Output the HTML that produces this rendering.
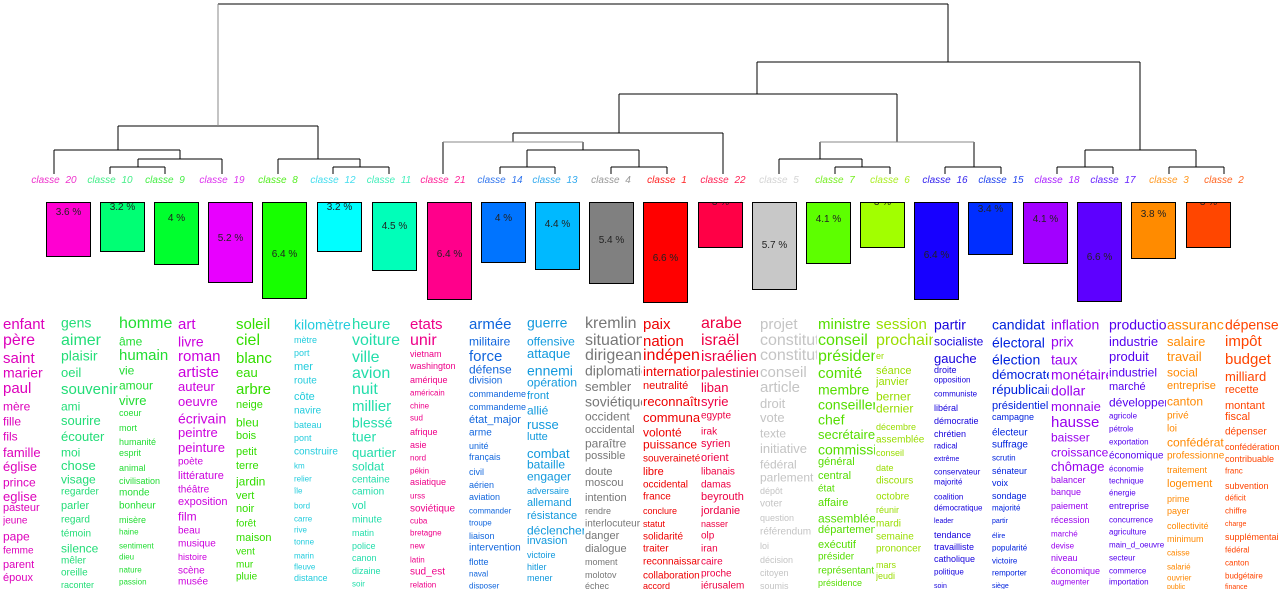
<!DOCTYPE html>
<html><head><meta charset="utf-8">
<style>
html,body{margin:0;padding:0;background:#fff;}
body{width:1279px;height:589px;position:relative;overflow:hidden;font-family:"Liberation Sans",sans-serif;}
svg{position:absolute;left:0;top:0;}
.col{position:absolute;top:310px;height:279px;width:57px;overflow:hidden;}
.col b{position:absolute;left:0;font-weight:normal;white-space:nowrap;line-height:1;transform:translateY(-55%);}
.bar{position:absolute;top:202px;width:45px;border:1px solid #000;box-sizing:border-box;overflow:hidden;}
.bar span{position:absolute;left:0;right:0;text-align:center;font-size:10px;line-height:1;color:#222;transform:translateY(-50%);}
</style></head><body>
<svg width="1279" height="310" xmlns="http://www.w3.org/2000/svg">
<g stroke="#000" stroke-width="1" fill="none" shape-rendering="crispEdges">
<path d="M54 150V174M110 167V174M165 167V174M110 167H165M138 159V167M222 159V174M138 159H222M180 150V159M54 150H180M118 126V150"/>
<path d="M278 159V174M333 167V174M389 167V174M333 167H389M360 159V167M278 159H360M318 126V159M118 126H318"/>
<path d="M218 4H948M948 4V62M757 62H1140M757 62V94M619 94H897M619 94V133M513 133H723M723 133V174M513 133V142"/>
<path d="M443 142V174M583 142V150M527 150H639M527 150V167M500 167H555M500 167V174M555 167V174M639 150V167M611 167H667M611 167V174M667 167V174"/>
<path d="M897 94V142M820 142V159M779 159H862M779 159V174M862 159V167M835 167H890M835 167V174M890 167V174M974 142V167M945 167H1001M945 167V174M1001 167V174"/>
<path d="M1140 62V150M1085 150H1196M1085 150V167M1057 167H1113M1057 167V174M1113 167V174M1196 150V167M1169 167H1224M1169 167V174M1224 167V174"/>
</g>
<g stroke="#888" stroke-width="1" shape-rendering="crispEdges"><path d="M218 4V126M443 142H583M820 142H974"/></g>
<g font-family="Liberation Sans, sans-serif" font-size="10" font-style="italic" text-anchor="middle" word-spacing="3">
<text x="54" y="183" fill="#ee33cc">classe 20</text>
<text x="110" y="183" fill="#44ee88">classe 10</text>
<text x="165" y="183" fill="#44ee44">classe 9</text>
<text x="222" y="183" fill="#dd33ee">classe 19</text>
<text x="278" y="183" fill="#55ee22">classe 8</text>
<text x="333" y="183" fill="#44ddee">classe 12</text>
<text x="389" y="183" fill="#44eebb">classe 11</text>
<text x="443" y="183" fill="#ff2299">classe 21</text>
<text x="500" y="183" fill="#3377ee">classe 14</text>
<text x="555" y="183" fill="#33aaee">classe 13</text>
<text x="611" y="183" fill="#999">classe 4</text>
<text x="667" y="183" fill="#ff2222">classe 1</text>
<text x="723" y="183" fill="#ff2255">classe 22</text>
<text x="779" y="183" fill="#d4d4d4">classe 5</text>
<text x="835" y="183" fill="#77ee22">classe 7</text>
<text x="890" y="183" fill="#aaee22">classe 6</text>
<text x="945" y="183" fill="#3322ee">classe 16</text>
<text x="1001" y="183" fill="#2244ee">classe 15</text>
<text x="1057" y="183" fill="#aa22ff">classe 18</text>
<text x="1113" y="183" fill="#6622ff">classe 17</text>
<text x="1169" y="183" fill="#ff9922">classe 3</text>
<text x="1224" y="183" fill="#ff6622">classe 2</text>
</g>
</svg>

<div class="bar" style="left:46px;height:55px;background:#FF00D1"><span style="top:10px">3.6 %</span></div>
<div class="bar" style="left:100px;height:50px;background:#00FF74"><span style="top:5px">3.2 %</span></div>
<div class="bar" style="left:154px;height:63px;background:#00FF2E"><span style="top:16px">4 %</span></div>
<div class="bar" style="left:208px;height:81px;background:#E800FF"><span style="top:36px">5.2 %</span></div>
<div class="bar" style="left:262px;height:97px;background:#17FF00"><span style="top:52px">6.4 %</span></div>
<div class="bar" style="left:317px;height:50px;background:#00FFFF"><span style="top:5px">3.2 %</span></div>
<div class="bar" style="left:372px;height:69px;background:#00FFB9"><span style="top:24px">4.5 %</span></div>
<div class="bar" style="left:427px;height:98px;background:#FF008B"><span style="top:52px">6.4 %</span></div>
<div class="bar" style="left:481px;height:61px;background:#0074FF"><span style="top:16px">4 %</span></div>
<div class="bar" style="left:535px;height:68px;background:#00B9FF"><span style="top:22px">4.4 %</span></div>
<div class="bar" style="left:589px;height:82px;background:#808080"><span style="top:38px">5.4 %</span></div>
<div class="bar" style="left:643px;height:101px;background:#FF0000"><span style="top:56px">6.6 %</span></div>
<div class="bar" style="left:698px;height:46px;background:#FF0046"><span style="top:0px">3 %</span></div>
<div class="bar" style="left:752px;height:88px;background:#C8C8C8"><span style="top:43px">5.7 %</span></div>
<div class="bar" style="left:806px;height:62px;background:#5DFF00"><span style="top:17px">4.1 %</span></div>
<div class="bar" style="left:860px;height:46px;background:#A2FF00"><span style="top:0px">3 %</span></div>
<div class="bar" style="left:914px;height:98px;background:#1700FF"><span style="top:53px">6.4 %</span></div>
<div class="bar" style="left:968px;height:53px;background:#002EFF"><span style="top:7px">3.4 %</span></div>
<div class="bar" style="left:1023px;height:62px;background:#A200FF"><span style="top:17px">4.1 %</span></div>
<div class="bar" style="left:1077px;height:100px;background:#5D00FF"><span style="top:55px">6.6 %</span></div>
<div class="bar" style="left:1131px;height:57px;background:#FF8B00"><span style="top:12px">3.8 %</span></div>
<div class="bar" style="left:1186px;height:46px;background:#FF4600"><span style="top:0px">3 %</span></div>

<div class="col" style="left:3px;color:#dd00bb">
<b style="top:15px;font-size:15px">enfant</b><b style="top:32px;font-size:16px">père</b><b style="top:49px;font-size:15px">saint</b><b style="top:63px;font-size:14px">marier</b><b style="top:79px;font-size:15px">paul</b><b style="top:97px;font-size:12px">mère</b><b style="top:112px;font-size:12px">fille</b><b style="top:127px;font-size:12px">fils</b><b style="top:143px;font-size:13px">famille</b><b style="top:157px;font-size:13px">église</b><b style="top:173px;font-size:12px">prince</b><b style="top:187px;font-size:13px">eglise</b><b style="top:199px;font-size:11px">pasteur</b><b style="top:212px;font-size:10px">jeune</b><b style="top:227px;font-size:12px">pape</b><b style="top:242px;font-size:10px">femme</b><b style="top:256px;font-size:11px">parent</b><b style="top:269px;font-size:11px">époux</b>
</div>
<div class="col" style="left:61px;color:#22dd77">
<b style="top:13px;font-size:14px">gens</b><b style="top:32px;font-size:16px">aimer</b><b style="top:46px;font-size:14px">plaisir</b><b style="top:63px;font-size:13px">oeil</b><b style="top:80px;font-size:15px">souvenir</b><b style="top:97px;font-size:12px">ami</b><b style="top:111px;font-size:13px">sourire</b><b style="top:127px;font-size:13px">écouter</b><b style="top:143px;font-size:12px">moi</b><b style="top:156px;font-size:13px">chose</b><b style="top:170px;font-size:12px">visage</b><b style="top:183px;font-size:10px">regarder</b><b style="top:197px;font-size:11px">parler</b><b style="top:211px;font-size:10px">regard</b><b style="top:225px;font-size:10px">témoin</b><b style="top:239px;font-size:12px">silence</b><b style="top:252px;font-size:10px">mêler</b><b style="top:264px;font-size:10px">oreille</b><b style="top:276px;font-size:9px">raconter</b>
</div>
<div class="col" style="left:119px;color:#22dd33">
<b style="top:15px;font-size:16px">homme</b><b style="top:32px;font-size:12px">âme</b><b style="top:46px;font-size:15px">humain</b><b style="top:61px;font-size:12px">vie</b><b style="top:76px;font-size:12px">amour</b><b style="top:91px;font-size:13px">vivre</b><b style="top:104px;font-size:9px">coeur</b><b style="top:119px;font-size:9px">mort</b><b style="top:133px;font-size:9px">humanité</b><b style="top:144px;font-size:9px">esprit</b><b style="top:159px;font-size:9px">animal</b><b style="top:172px;font-size:9px">civilisation</b><b style="top:184px;font-size:10px">monde</b><b style="top:197px;font-size:10px">bonheur</b><b style="top:211px;font-size:9px">misère</b><b style="top:223px;font-size:8px">haine</b><b style="top:237px;font-size:8px">sentiment</b><b style="top:248px;font-size:8px">dieu</b><b style="top:261px;font-size:8px">nature</b><b style="top:273px;font-size:8px">passion</b>
</div>
<div class="col" style="left:178px;color:#cc00dd">
<b style="top:15px;font-size:15px">art</b><b style="top:32px;font-size:14px">livre</b><b style="top:47px;font-size:15px">roman</b><b style="top:63px;font-size:15px">artiste</b><b style="top:77px;font-size:13px">auteur</b><b style="top:92px;font-size:13px">oeuvre</b><b style="top:109px;font-size:14px">écrivain</b><b style="top:123px;font-size:13px">peintre</b><b style="top:138px;font-size:13px">peinture</b><b style="top:153px;font-size:10px">poète</b><b style="top:167px;font-size:11px">littérature</b><b style="top:181px;font-size:10px">théâtre</b><b style="top:193px;font-size:11px">exposition</b><b style="top:207px;font-size:12px">film</b><b style="top:222px;font-size:10px">beau</b><b style="top:235px;font-size:10px">musique</b><b style="top:248px;font-size:9px">histoire</b><b style="top:262px;font-size:10px">scène</b><b style="top:273px;font-size:10px">musée</b>
</div>
<div class="col" style="left:236px;color:#33dd00">
<b style="top:15px;font-size:15px">soleil</b><b style="top:32px;font-size:16px">ciel</b><b style="top:49px;font-size:15px">blanc</b><b style="top:63px;font-size:13px">eau</b><b style="top:80px;font-size:15px">arbre</b><b style="top:96px;font-size:11px">neige</b><b style="top:113px;font-size:12px">bleu</b><b style="top:127px;font-size:11px">bois</b><b style="top:143px;font-size:11px">petit</b><b style="top:157px;font-size:11px">terre</b><b style="top:172px;font-size:12px">jardin</b><b style="top:187px;font-size:11px">vert</b><b style="top:200px;font-size:11px">noir</b><b style="top:215px;font-size:10px">forêt</b><b style="top:229px;font-size:11px">maison</b><b style="top:243px;font-size:10px">vent</b><b style="top:256px;font-size:10px">mur</b><b style="top:268px;font-size:10px">pluie</b>
</div>
<div class="col" style="left:294px;color:#22ccdd">
<b style="top:15px;font-size:14px">kilomètre</b><b style="top:31px;font-size:9px">mètre</b><b style="top:44px;font-size:9px">port</b><b style="top:58px;font-size:11px">mer</b><b style="top:72px;font-size:10px">route</b><b style="top:88px;font-size:11px">côte</b><b style="top:102px;font-size:10px">navire</b><b style="top:116px;font-size:9px">bateau</b><b style="top:129px;font-size:9px">pont</b><b style="top:143px;font-size:10px">construire</b><b style="top:157px;font-size:8px">km</b><b style="top:170px;font-size:8px">relier</b><b style="top:182px;font-size:8px">île</b><b style="top:197px;font-size:8px">bord</b><b style="top:210px;font-size:8px">carre</b><b style="top:221px;font-size:8px">rive</b><b style="top:233px;font-size:8px">tonne</b><b style="top:247px;font-size:8px">marin</b><b style="top:258px;font-size:8px">fleuve</b><b style="top:269px;font-size:9px">distance</b>
</div>
<div class="col" style="left:352px;color:#22ddaa">
<b style="top:15px;font-size:15px">heure</b><b style="top:32px;font-size:16px">voiture</b><b style="top:49px;font-size:16px">ville</b><b style="top:65px;font-size:16px">avion</b><b style="top:81px;font-size:16px">nuit</b><b style="top:97px;font-size:15px">millier</b><b style="top:113px;font-size:14px">blessé</b><b style="top:127px;font-size:14px">tuer</b><b style="top:143px;font-size:13px">quartier</b><b style="top:157px;font-size:12px">soldat</b><b style="top:171px;font-size:10px">centaine</b><b style="top:183px;font-size:10px">camion</b><b style="top:197px;font-size:11px">vol</b><b style="top:211px;font-size:10px">minute</b><b style="top:224px;font-size:9px">matin</b><b style="top:237px;font-size:9px">police</b><b style="top:249px;font-size:9px">canon</b><b style="top:262px;font-size:9px">dizaine</b><b style="top:275px;font-size:8px">soir</b>
</div>
<div class="col" style="left:410px;color:#ee0088">
<b style="top:15px;font-size:15px">etats</b><b style="top:32px;font-size:16px">unir</b><b style="top:45px;font-size:9px">vietnam</b><b style="top:57px;font-size:9px">washington</b><b style="top:71px;font-size:9px">amérique</b><b style="top:84px;font-size:8px">américain</b><b style="top:97px;font-size:8px">chine</b><b style="top:109px;font-size:8px">sud</b><b style="top:123px;font-size:9px">afrique</b><b style="top:136px;font-size:9px">asie</b><b style="top:149px;font-size:8px">nord</b><b style="top:162px;font-size:8px">pékin</b><b style="top:173px;font-size:9px">asiatique</b><b style="top:187px;font-size:8px">urss</b><b style="top:200px;font-size:10px">soviétique</b><b style="top:212px;font-size:8px">cuba</b><b style="top:224px;font-size:8px">bretagne</b><b style="top:237px;font-size:8px">new</b><b style="top:251px;font-size:8px">latin</b><b style="top:263px;font-size:10px">sud_est</b><b style="top:276px;font-size:8px">relation</b>
</div>
<div class="col" style="left:469px;color:#1166dd">
<b style="top:15px;font-size:15px">armée</b><b style="top:32px;font-size:12px">militaire</b><b style="top:47px;font-size:15px">force</b><b style="top:60px;font-size:12px">défense</b><b style="top:72px;font-size:10px">division</b><b style="top:85px;font-size:9px">commandement</b><b style="top:98px;font-size:9px">commandement</b><b style="top:111px;font-size:11px">état_major</b><b style="top:124px;font-size:10px">arme</b><b style="top:137px;font-size:9px">unité</b><b style="top:148px;font-size:9px">français</b><b style="top:163px;font-size:9px">civil</b><b style="top:176px;font-size:9px">aérien</b><b style="top:188px;font-size:9px">aviation</b><b style="top:202px;font-size:8px">commander</b><b style="top:214px;font-size:8px">troupe</b><b style="top:227px;font-size:9px">liaison</b><b style="top:239px;font-size:10px">intervention</b><b style="top:253px;font-size:9px">flotte</b><b style="top:265px;font-size:8px">naval</b><b style="top:277px;font-size:8px">disposer</b>
</div>
<div class="col" style="left:527px;color:#1199dd">
<b style="top:13px;font-size:14px">guerre</b><b style="top:32px;font-size:12px">offensive</b><b style="top:44px;font-size:13px">attaque</b><b style="top:61px;font-size:14px">ennemi</b><b style="top:73px;font-size:12px">opération</b><b style="top:87px;font-size:11px">front</b><b style="top:101px;font-size:12px">allié</b><b style="top:115px;font-size:13px">russe</b><b style="top:128px;font-size:11px">lutte</b><b style="top:144px;font-size:13px">combat</b><b style="top:155px;font-size:12px">bataille</b><b style="top:167px;font-size:12px">engager</b><b style="top:182px;font-size:9px">adversaire</b><b style="top:194px;font-size:11px">allemand</b><b style="top:207px;font-size:11px">résistance</b><b style="top:221px;font-size:12px">déclencher</b><b style="top:232px;font-size:11px">invasion</b><b style="top:246px;font-size:9px">victoire</b><b style="top:258px;font-size:9px">hitler</b><b style="top:269px;font-size:9px">mener</b>
</div>
<div class="col" style="left:585px;color:#777">
<b style="top:15px;font-size:16px">kremlin</b><b style="top:32px;font-size:16px">situation</b><b style="top:47px;font-size:16px">dirigeant</b><b style="top:61px;font-size:14px">diplomatie</b><b style="top:77px;font-size:13px">sembler</b><b style="top:92px;font-size:14px">soviétique</b><b style="top:107px;font-size:12px">occident</b><b style="top:121px;font-size:11px">occidental</b><b style="top:134px;font-size:12px">paraître</b><b style="top:147px;font-size:11px">possible</b><b style="top:163px;font-size:11px">doute</b><b style="top:174px;font-size:11px">moscou</b><b style="top:189px;font-size:11px">intention</b><b style="top:202px;font-size:9px">rendre</b><b style="top:215px;font-size:10px">interlocuteur</b><b style="top:227px;font-size:11px">danger</b><b style="top:240px;font-size:11px">dialogue</b><b style="top:253px;font-size:9px">moment</b><b style="top:266px;font-size:9px">molotov</b><b style="top:277px;font-size:9px">échec</b>
</div>
<div class="col" style="left:643px;color:#ee0000">
<b style="top:15px;font-size:15px">paix</b><b style="top:32px;font-size:15px">nation</b><b style="top:47px;font-size:16px">indépendance</b><b style="top:62px;font-size:13px">international</b><b style="top:77px;font-size:11px">neutralité</b><b style="top:92px;font-size:13px">reconnaître</b><b style="top:108px;font-size:13px">communauté</b><b style="top:123px;font-size:12px">volonté</b><b style="top:135px;font-size:12px">puissance</b><b style="top:150px;font-size:10px">souveraineté</b><b style="top:163px;font-size:11px">libre</b><b style="top:176px;font-size:10px">occidental</b><b style="top:188px;font-size:10px">france</b><b style="top:202px;font-size:9px">conclure</b><b style="top:215px;font-size:9px">statut</b><b style="top:228px;font-size:10px">solidarité</b><b style="top:240px;font-size:10px">traiter</b><b style="top:253px;font-size:10px">reconnaissance</b><b style="top:267px;font-size:10px">collaboration</b><b style="top:277px;font-size:9px">accord</b>
</div>
<div class="col" style="left:701px;color:#ee0044">
<b style="top:15px;font-size:16px">arabe</b><b style="top:32px;font-size:16px">israël</b><b style="top:47px;font-size:15px">israélien</b><b style="top:63px;font-size:13px">palestinien</b><b style="top:78px;font-size:13px">liban</b><b style="top:92px;font-size:13px">syrie</b><b style="top:107px;font-size:10px">egypte</b><b style="top:123px;font-size:10px">irak</b><b style="top:135px;font-size:11px">syrien</b><b style="top:149px;font-size:11px">orient</b><b style="top:163px;font-size:10px">libanais</b><b style="top:176px;font-size:10px">damas</b><b style="top:188px;font-size:11px">beyrouth</b><b style="top:202px;font-size:11px">jordanie</b><b style="top:215px;font-size:9px">nasser</b><b style="top:227px;font-size:10px">olp</b><b style="top:240px;font-size:10px">iran</b><b style="top:253px;font-size:10px">caire</b><b style="top:265px;font-size:10px">proche</b><b style="top:277px;font-size:10px">jérusalem</b>
</div>
<div class="col" style="left:760px;color:#c4c4c4">
<b style="top:15px;font-size:15px">projet</b><b style="top:32px;font-size:16px">constitution</b><b style="top:47px;font-size:16px">constitutionnel</b><b style="top:63px;font-size:15px">conseil</b><b style="top:78px;font-size:15px">article</b><b style="top:94px;font-size:13px">droit</b><b style="top:108px;font-size:13px">vote</b><b style="top:124px;font-size:12px">texte</b><b style="top:139px;font-size:13px">initiative</b><b style="top:155px;font-size:12px">fédéral</b><b style="top:168px;font-size:12px">parlement</b><b style="top:182px;font-size:9px">dépôt</b><b style="top:195px;font-size:10px">voter</b><b style="top:209px;font-size:9px">question</b><b style="top:223px;font-size:10px">référendum</b><b style="top:237px;font-size:9px">loi</b><b style="top:251px;font-size:9px">décision</b><b style="top:264px;font-size:9px">citoyen</b><b style="top:277px;font-size:9px">soumis</b>
</div>
<div class="col" style="left:818px;color:#55dd00">
<b style="top:15px;font-size:15px">ministre</b><b style="top:32px;font-size:16px">conseil</b><b style="top:48px;font-size:16px">président</b><b style="top:64px;font-size:15px">comité</b><b style="top:80px;font-size:14px">membre</b><b style="top:95px;font-size:14px">conseiller</b><b style="top:110px;font-size:14px">chef</b><b style="top:125px;font-size:13px">secrétaire</b><b style="top:140px;font-size:14px">commission</b><b style="top:153px;font-size:11px">général</b><b style="top:167px;font-size:11px">central</b><b style="top:180px;font-size:10px">état</b><b style="top:194px;font-size:11px">affaire</b><b style="top:209px;font-size:12px">assemblée</b><b style="top:221px;font-size:11px">département</b><b style="top:236px;font-size:11px">exécutif</b><b style="top:248px;font-size:10px">présider</b><b style="top:262px;font-size:10px">représentant</b><b style="top:274px;font-size:9px">présidence</b>
</div>
<div class="col" style="left:876px;color:#99dd00">
<b style="top:15px;font-size:15px">session</b><b style="top:32px;font-size:16px">prochain</b><b style="top:47px;font-size:9px">er</b><b style="top:62px;font-size:11px">séance</b><b style="top:73px;font-size:11px">janvier</b><b style="top:87px;font-size:12px">berner</b><b style="top:99px;font-size:12px">dernier</b><b style="top:118px;font-size:9px">décembre</b><b style="top:131px;font-size:10px">assemblée</b><b style="top:144px;font-size:9px">conseil</b><b style="top:159px;font-size:9px">date</b><b style="top:172px;font-size:10px">discours</b><b style="top:188px;font-size:10px">octobre</b><b style="top:201px;font-size:9px">réunir</b><b style="top:215px;font-size:10px">mardi</b><b style="top:228px;font-size:10px">semaine</b><b style="top:240px;font-size:10px">prononcer</b><b style="top:256px;font-size:9px">mars</b><b style="top:267px;font-size:9px">jeudi</b>
</div>
<div class="col" style="left:934px;color:#1500dd">
<b style="top:15px;font-size:14px">partir</b><b style="top:32px;font-size:12px">socialiste</b><b style="top:49px;font-size:13px">gauche</b><b style="top:61px;font-size:9px">droite</b><b style="top:71px;font-size:8px">opposition</b><b style="top:85px;font-size:8px">communiste</b><b style="top:99px;font-size:9px">libéral</b><b style="top:112px;font-size:9px">démocratie</b><b style="top:125px;font-size:9px">chrétien</b><b style="top:137px;font-size:8px">radical</b><b style="top:150px;font-size:7px">extrême</b><b style="top:163px;font-size:8px">conservateur</b><b style="top:173px;font-size:8px">majorité</b><b style="top:188px;font-size:8px">coalition</b><b style="top:199px;font-size:8px">démocratique</b><b style="top:212px;font-size:7px">leader</b><b style="top:226px;font-size:9px">tendance</b><b style="top:238px;font-size:9px">travailliste</b><b style="top:250px;font-size:9px">catholique</b><b style="top:263px;font-size:8px">politique</b><b style="top:277px;font-size:7px">soin</b>
</div>
<div class="col" style="left:992px;color:#0022dd">
<b style="top:15px;font-size:14px">candidat</b><b style="top:33px;font-size:14px">électoral</b><b style="top:50px;font-size:14px">élection</b><b style="top:65px;font-size:13px">démocrate</b><b style="top:80px;font-size:13px">républicain</b><b style="top:97px;font-size:11px">présidentiel</b><b style="top:108px;font-size:9px">campagne</b><b style="top:124px;font-size:10px">électeur</b><b style="top:136px;font-size:10px">suffrage</b><b style="top:149px;font-size:8px">scrutin</b><b style="top:162px;font-size:9px">sénateur</b><b style="top:174px;font-size:9px">voix</b><b style="top:187px;font-size:9px">sondage</b><b style="top:199px;font-size:8px">majorité</b><b style="top:212px;font-size:7px">partir</b><b style="top:227px;font-size:7px">élire</b><b style="top:239px;font-size:8px">popularité</b><b style="top:252px;font-size:8px">victoire</b><b style="top:264px;font-size:8px">remporter</b><b style="top:277px;font-size:7px">siège</b>
</div>
<div class="col" style="left:1051px;color:#9900ee">
<b style="top:15px;font-size:14px">inflation</b><b style="top:32px;font-size:14px">prix</b><b style="top:50px;font-size:14px">taux</b><b style="top:65px;font-size:14px">monétaire</b><b style="top:81px;font-size:14px">dollar</b><b style="top:97px;font-size:13px">monnaie</b><b style="top:113px;font-size:15px">hausse</b><b style="top:128px;font-size:12px">baisser</b><b style="top:143px;font-size:12px">croissance</b><b style="top:157px;font-size:13px">chômage</b><b style="top:171px;font-size:9px">balancer</b><b style="top:183px;font-size:9px">banque</b><b style="top:197px;font-size:9px">paiement</b><b style="top:211px;font-size:9px">récession</b><b style="top:225px;font-size:8px">marché</b><b style="top:237px;font-size:8px">devise</b><b style="top:249px;font-size:9px">niveau</b><b style="top:262px;font-size:9px">économique</b><b style="top:273px;font-size:8px">augmenter</b>
</div>
<div class="col" style="left:1109px;color:#5500ee">
<b style="top:15px;font-size:14px">production</b><b style="top:32px;font-size:13px">industrie</b><b style="top:47px;font-size:13px">produit</b><b style="top:63px;font-size:12px">industriel</b><b style="top:78px;font-size:11px">marché</b><b style="top:93px;font-size:12px">développement</b><b style="top:107px;font-size:8px">agricole</b><b style="top:120px;font-size:8px">pétrole</b><b style="top:133px;font-size:8px">exportation</b><b style="top:147px;font-size:10px">économique</b><b style="top:160px;font-size:8px">économie</b><b style="top:172px;font-size:8px">technique</b><b style="top:184px;font-size:8px">énergie</b><b style="top:197px;font-size:9px">entreprise</b><b style="top:211px;font-size:8px">concurrence</b><b style="top:223px;font-size:8px">agriculture</b><b style="top:236px;font-size:8px">main_d_oeuvre</b><b style="top:249px;font-size:8px">secteur</b><b style="top:262px;font-size:8px">commerce</b><b style="top:273px;font-size:8px">importation</b>
</div>
<div class="col" style="left:1167px;color:#ff8800">
<b style="top:15px;font-size:14px">assurance</b><b style="top:32px;font-size:13px">salaire</b><b style="top:47px;font-size:13px">travail</b><b style="top:63px;font-size:12px">social</b><b style="top:77px;font-size:11px">entreprise</b><b style="top:92px;font-size:12px">canton</b><b style="top:107px;font-size:10px">privé</b><b style="top:120px;font-size:10px">loi</b><b style="top:133px;font-size:12px">confédération</b><b style="top:147px;font-size:10px">professionnel</b><b style="top:161px;font-size:9px">traitement</b><b style="top:175px;font-size:11px">logement</b><b style="top:190px;font-size:9px">prime</b><b style="top:202px;font-size:9px">payer</b><b style="top:217px;font-size:9px">collectivité</b><b style="top:230px;font-size:9px">minimum</b><b style="top:244px;font-size:8px">caisse</b><b style="top:258px;font-size:8px">salarié</b><b style="top:269px;font-size:8px">ouvrier</b><b style="top:278px;font-size:7px">public</b>
</div>
<div class="col" style="left:1225px;width:54px;color:#ff4400">
<b style="top:15px;font-size:14px">dépense</b><b style="top:32px;font-size:15px">impôt</b><b style="top:50px;font-size:15px">budget</b><b style="top:67px;font-size:13px">milliard</b><b style="top:81px;font-size:11px">recette</b><b style="top:97px;font-size:11px">montant</b><b style="top:108px;font-size:11px">fiscal</b><b style="top:123px;font-size:10px">dépenser</b><b style="top:138px;font-size:9px">confédération</b><b style="top:150px;font-size:9px">contribuable</b><b style="top:162px;font-size:8px">franc</b><b style="top:177px;font-size:9px">subvention</b><b style="top:189px;font-size:8px">déficit</b><b style="top:202px;font-size:8px">chiffre</b><b style="top:215px;font-size:7px">charge</b><b style="top:228px;font-size:9px">supplémentaire</b><b style="top:241px;font-size:8px">fédéral</b><b style="top:254px;font-size:8px">canton</b><b style="top:267px;font-size:8px">budgétaire</b><b style="top:278px;font-size:7px">finance</b>
</div>
</body></html>
